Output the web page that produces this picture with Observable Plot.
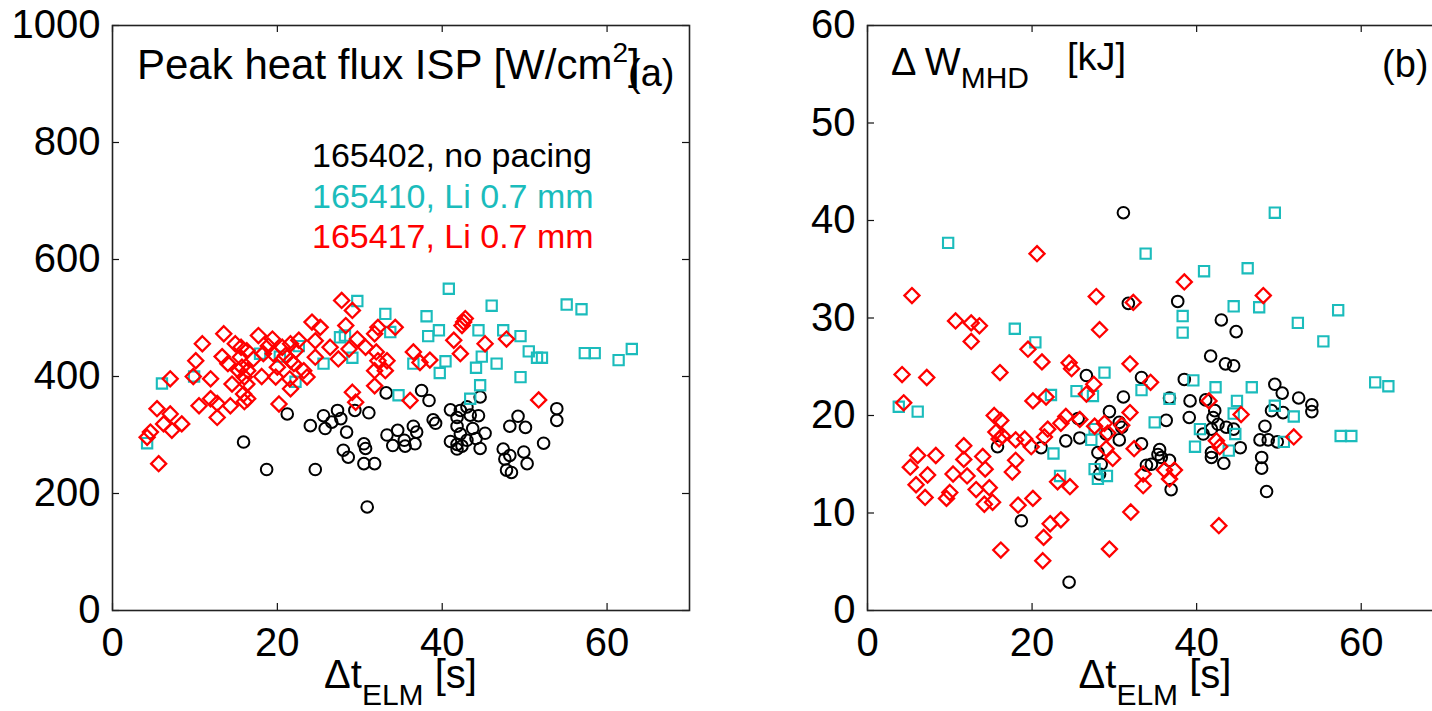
<!DOCTYPE html>
<html><head><meta charset="utf-8">
<script src="https://cdn.jsdelivr.net/npm/d3@7"></script>
<script src="https://cdn.jsdelivr.net/npm/@observablehq/plot@0.6"></script>
<style>
html,body{margin:0;padding:0;background:#fff;}
#wrap{position:relative;width:1432px;height:711px;overflow:hidden;background:#fff;}
#wrap svg{position:absolute;top:0;overflow:visible;max-width:none;}
</style></head><body><div id="wrap"></div>
<script>
// ---- tick values ----
const xTicks = [0, 20, 40, 60];
const yTicksA = [0, 200, 400, 600, 800, 1000];
const yTicksB = [0, 10, 20, 30, 40, 50, 60];

// ---- legend labels ----
const legendLabels = ["165402, no pacing", "165410, Li 0.7 mm", "165417, Li 0.7 mm"];

// ---- panel (a): peak heat flux ISP [W/cm^2] vs dt_ELM [s] ----
const blackA = [[15.9,288],[18.7,241],[21.2,336],[24.0,316],[24.6,241],[25.6,333],[25.8,311],[26.6,322],[27.3,342],[27.7,328],[28.4,305],[28.0,274],[28.6,262],[29.4,342],[30.5,285],[30.7,277],[30.5,251],[31.8,251],[30.9,177],[31.1,338],[33.2,372],[33.3,300],[34.6,308],[34.0,282],[35.4,291],[35.5,281],[36.5,315],[36.7,285],[36.9,305],[37.5,376],[38.4,359],[38.9,326],[39.2,320],[41.0,343],[41.8,330],[42.2,342],[43.0,348],[43.4,334],[44.4,333],[44.6,365],[41.8,315],[42.2,302],[43.7,311],[41.0,289],[41.8,284],[41.8,276],[42.4,281],[43.0,291],[44.1,294],[45.2,303],[44.6,277],[47.4,276],[47.6,259],[47.8,240],[48.4,236],[48.2,265],[49.9,271],[50.3,251],[48.2,315],[49.2,332],[50.1,313],[52.3,286],[53.9,345],[53.9,325]];
const cyanA = [[4.2,286],[6.0,388],[9.9,400],[17.9,439],[20.3,434],[22.6,452],[22.2,391],[25.6,422],[27.6,467],[28.2,470],[29.1,432],[29.7,529],[33.1,507],[33.7,476],[34.7,368],[36.5,422],[38.1,503],[38.3,469],[39.6,479],[40.4,426],[39.7,406],[40.8,550],[43.4,362],[44.6,385],[44.1,415],[44.8,434],[44.4,479],[46.0,521],[46.6,422],[47.4,479],[49.5,469],[49.5,399],[50.5,443],[51.5,432],[52.1,432],[55.1,523],[56.9,515],[57.3,440],[58.5,440],[61.4,428],[63.0,447]];
const redA = [[5.6,251],[4.2,296],[4.6,305],[5.4,345],[6.2,319],[7.0,336],[7.2,308],[8.4,319],[7.0,396],[10.5,350],[10.1,427],[10.9,456],[9.8,400],[11.9,396],[11.9,362],[12.7,354],[12.7,330],[14.3,350],[14.5,387],[13.5,473],[13.3,434],[14.0,422],[14.9,456],[15.6,450],[16.3,444],[15.5,433],[15.7,416],[16.4,410],[15.3,410],[16.0,399],[16.3,387],[15.9,370],[16.4,362],[16.0,357],[17.1,430],[17.7,470],[18.3,439],[18.1,400],[18.9,452],[19.4,464],[19.5,439],[20.0,416],[19.8,399],[20.2,353],[20.6,450],[21.0,436],[21.6,456],[21.6,427],[22.0,422],[21.5,396],[21.6,379],[22.2,444],[22.6,462],[23.2,410],[23.6,399],[24.2,493],[25.2,484],[24.6,461],[24.6,433],[26.4,450],[27.4,430],[27.8,530],[29.1,513],[28.3,487],[28.7,447],[29.7,464],[30.7,450],[31.8,473],[32.2,484],[32.0,442],[32.2,427],[31.8,410],[33.1,410],[33.3,427],[34.3,484],[31.8,384],[29.1,373],[29.5,356],[36.5,442],[37.3,424],[38.5,428],[36.1,359],[41.4,462],[42.2,439],[42.6,493],[42.8,499],[42.4,487],[45.2,456],[47.8,464],[51.7,360]];

// ---- panel (b): Delta W_MHD [kJ] vs dt_ELM [s] ----
const blackB = [[31.1,40.8],[31.7,31.5],[37.7,31.7],[43.0,29.8],[44.8,28.6],[41.7,26.1],[43.5,25.3],[44.5,25.1],[26.6,24.1],[33.3,23.9],[38.5,23.7],[49.5,23.2],[50.4,22.3],[31.1,21.9],[52.4,21.8],[54.0,21.1],[54.0,20.4],[36.7,21.8],[39.2,21.5],[41.1,21.6],[42.2,20.5],[42.0,19.8],[29.4,20.4],[25.6,19.7],[30.6,19.3],[30.9,18.8],[29.0,18.1],[30.6,17.5],[25.8,17.7],[24.1,17.4],[21.1,16.7],[15.8,16.8],[33.3,17.1],[28.0,16.2],[28.4,15.0],[28.2,14.0],[33.9,14.9],[34.5,15.0],[35.3,16.0],[35.5,16.5],[35.7,15.7],[36.3,19.5],[39.1,19.8],[49.1,20.5],[50.5,20.3],[48.3,18.9],[40.8,18.1],[41.8,18.6],[42.6,19.1],[43.6,18.8],[44.5,18.6],[47.7,17.5],[48.7,17.5],[49.8,17.3],[45.3,16.7],[41.8,16.2],[41.8,15.7],[43.3,15.1],[47.9,15.7],[47.9,14.6],[36.7,15.4],[36.9,12.4],[48.5,12.2],[18.7,9.2],[24.5,2.9]];
const cyanB = [[3.8,20.9],[6.1,20.4],[9.8,37.7],[17.9,28.9],[20.4,27.5],[22.3,22.1],[22.6,16.1],[23.4,13.8],[25.4,22.5],[27.4,22.0],[27.6,18.6],[27.2,17.5],[27.6,14.5],[28.0,13.5],[29.1,13.8],[28.8,24.4],[33.3,22.6],[33.8,36.6],[34.9,19.3],[36.7,21.7],[38.3,30.2],[38.3,28.5],[39.6,23.6],[40.9,34.8],[40.4,18.6],[39.8,16.8],[42.3,22.9],[43.9,16.4],[44.5,31.2],[44.5,20.2],[44.7,18.1],[44.9,21.5],[46.2,35.1],[46.7,22.9],[47.6,31.1],[49.5,40.8],[49.5,21.0],[50.6,17.3],[51.8,19.9],[52.3,29.5],[55.4,27.6],[57.2,30.8],[57.5,17.9],[58.8,17.9],[61.7,23.4],[63.3,23.0]];
const redB = [[4.2,24.2],[4.4,21.3],[5.4,32.3],[6.1,15.9],[5.2,14.7],[5.9,12.9],[7.2,23.9],[7.3,13.9],[7.0,11.6],[8.3,15.9],[9.6,11.5],[10.0,12.1],[10.4,14.0],[10.7,29.7],[11.7,16.9],[11.7,15.5],[12.1,13.8],[12.6,29.5],[13.6,29.2],[12.6,27.6],[13.2,12.4],[14.0,15.8],[14.3,14.5],[14.8,12.6],[14.2,10.9],[15.2,11.1],[15.4,20.0],[16.2,19.5],[15.6,18.3],[16.0,17.6],[16.4,17.9],[16.1,24.4],[16.2,6.2],[17.6,14.2],[18.0,15.4],[18.0,17.5],[18.3,10.8],[19.1,17.6],[19.9,16.8],[19.5,26.8],[20.1,21.5],[20.1,11.5],[20.6,36.6],[21.2,25.5],[21.7,21.9],[21.9,18.6],[21.5,17.8],[21.4,7.5],[21.3,5.1],[22.2,8.9],[23.5,9.3],[23.1,13.2],[24.6,12.7],[24.1,19.9],[23.5,19.2],[24.5,25.4],[24.8,24.8],[25.8,19.6],[26.6,22.2],[27.5,23.2],[27.8,32.2],[28.2,28.8],[27.6,18.9],[28.8,19.2],[29.2,18.2],[30.9,19.0],[29.0,16.6],[29.8,15.6],[29.4,6.3],[31.9,25.3],[31.9,20.3],[32.3,31.6],[32.4,16.6],[32.0,10.1],[33.5,14.0],[33.5,12.8],[34.4,23.4],[36.1,14.4],[37.3,14.4],[36.7,13.5],[38.5,33.7],[41.5,21.5],[42.4,17.4],[42.8,16.8],[42.7,8.7],[45.4,20.1],[48.1,32.3],[51.8,17.8]];

const CYAN = "#1bbcbc";
const RED = "#ff0000";
const FONT = "'Liberation Sans', Arial, Helvetica, sans-serif";

function panel({width, marginLeft, marginRight, yDomain, yTicks, black, cyan, red}) {
  const height = 711, marginTop = 25, marginBottom = 101;
  const innerW = width - marginLeft - marginRight;
  const innerH = height - marginTop - marginBottom;
  const tick = 7;
  return Plot.plot({
    width, height, marginLeft, marginRight, marginTop, marginBottom,
    x: {domain: [0, 70], label: null},
    y: {domain: yDomain, label: null},
    style: {fontFamily: FONT, fontSize: "40px", color: "#000", background: "transparent", overflow: "visible"},
    marks: [
      Plot.axisX({ticks: xTicks, tickSize: 0, tickPadding: 17, label: null, tickFormat: d => String(d)}),
      Plot.axisY({ticks: yTicks, tickSize: 0, tickPadding: 12, label: null, tickFormat: d => String(d)}),
      Plot.tickX(xTicks, {x: d => d, insetTop: innerH - tick, stroke: "#111", strokeWidth: 1.2}),
      Plot.tickX(xTicks, {x: d => d, insetBottom: innerH - tick, stroke: "#111", strokeWidth: 1.2}),
      Plot.tickY(yTicks, {y: d => d, insetRight: innerW - tick, stroke: "#111", strokeWidth: 1.2}),
      Plot.tickY(yTicks, {y: d => d, insetLeft: innerW - tick, stroke: "#111", strokeWidth: 1.2}),
      Plot.dot(black, {x: d => d[0], y: d => d[1], symbol: "circle", r: 5.8, stroke: "#000", strokeWidth: 2, fill: "none"}),
      Plot.dot(cyan, {x: d => d[0], y: d => d[1], symbol: "square", r: 5.8, stroke: CYAN, strokeWidth: 2.1, fill: "none"}),
      Plot.dot(red, {x: d => d[0], y: d => d[1], symbol: "diamond2", r: 6.8, stroke: RED, strokeWidth: 2.3, fill: "none"}),
      Plot.frame({stroke: "#222", strokeWidth: 1.6})
    ]
  });
}

const wrap = document.getElementById("wrap");

const chartA = panel({width: 720, marginLeft: 112, marginRight: 31, yDomain: [0, 1000], yTicks: yTicksA, black: blackA, cyan: cyanA, red: redA});
chartA.style.left = "0px";
wrap.appendChild(chartA);

const chartB = panel({width: 760, marginLeft: 147, marginRight: 37, yDomain: [0, 60], yTicks: yTicksB, black: blackB, cyan: cyanB, red: redB});
chartB.style.left = "720px";
wrap.appendChild(chartB);

function addText(svg, x, y, size, fill, anchor) {
  return d3.select(svg).append("text")
    .attr("x", x).attr("y", y)
    .attr("text-anchor", anchor || "start")
    .attr("font-family", FONT).attr("font-size", size).attr("fill", fill || "#000");
}

function xLabel(svg, sx) {
  const t = addText(svg, (sx.apply(0) + sx.apply(70)) / 2, 688, 40, "#000", "middle");
  t.append("tspan").text("\u0394t");
  t.append("tspan").attr("font-size", 30).attr("dy", 17).text("ELM");
  t.append("tspan").attr("dy", -17).text(" [s]");
}
xLabel(chartA, chartA.scale("x"));
xLabel(chartB, chartB.scale("x"));

// panel (a) annotations
{
  const t = addText(chartA, 137, 79, 42);
  t.append("tspan").text("Peak heat flux ISP [W/cm");
  t.append("tspan").attr("font-size", 28).attr("dy", -17).text("2");
  t.append("tspan").attr("dy", 17).text("]");
  addText(chartA, 628, 86, 38).text("(a)");
  const colors = ["#000", CYAN, RED];
  legendLabels.forEach((lab, i) => {
    addText(chartA, 312, 167 + i * 40.5, 34, colors[i]).text(lab);
  });
}
// panel (b) annotations
{
  const t = addText(chartB, 171, 75, 38);
  t.append("tspan").text("\u0394 W");
  t.append("tspan").attr("font-size", 30).attr("dy", 13).text("MHD");
  addText(chartB, 347, 70, 38).text("[kJ]");
  addText(chartB, 662, 77, 38).text("(b)");
}
</script></body></html>
